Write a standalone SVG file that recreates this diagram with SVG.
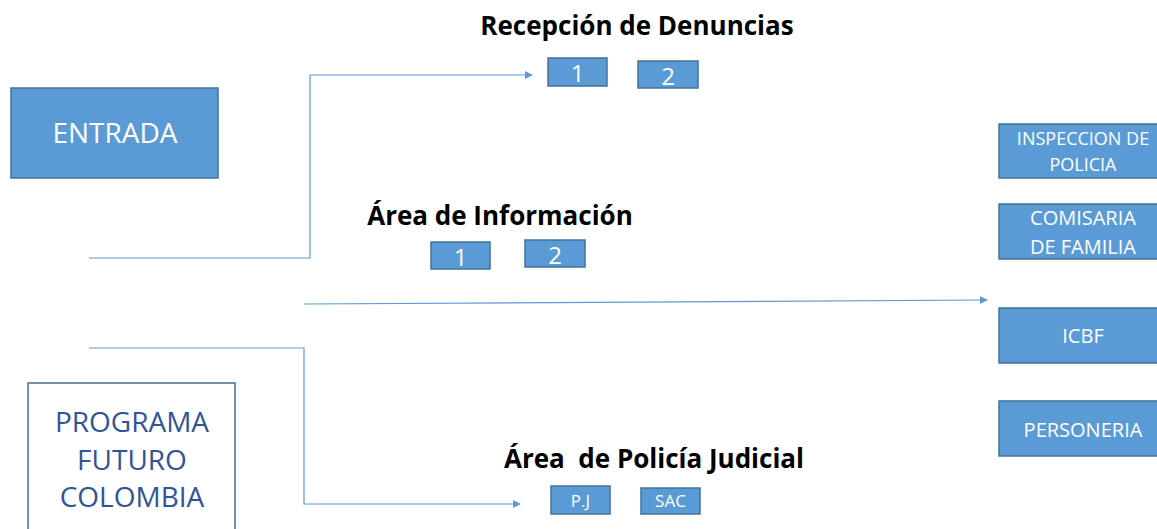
<svg xmlns="http://www.w3.org/2000/svg" width="1157" height="529" viewBox="0 0 1157 529">
<defs>
<style>
.box{fill:#5B9BD5;stroke:#41719C;stroke-width:1.5}
.wt{fill:#fff;font-family:"Open Sans","Liberation Sans",sans-serif;text-anchor:middle}
.title{fill:#000;font-family:"Open Sans","Liberation Sans",sans-serif;font-weight:bold;font-size:26px;text-anchor:middle}
.pg{fill:#2F5597;font-family:"Open Sans","Liberation Sans",sans-serif;font-size:28px;text-anchor:middle}
.con{fill:none;stroke:#5B9BD5;stroke-width:1.2}
</style>
<marker id="arr" viewBox="0 0 10 10" refX="9" refY="5" markerWidth="8" markerHeight="8" markerUnits="userSpaceOnUse" orient="auto">
<path d="M0,0 L10,5 L0,10 z" fill="#5B9BD5"/>
</marker>
</defs>
<rect width="1157" height="529" fill="#fff"/>
<g id="connectors">
<polyline class="con" points="89,258 310,258 310,75 532,75" marker-end="url(#arr)"/>
<line class="con" x1="304" y1="304" x2="987" y2="300" marker-end="url(#arr)"/>
<polyline class="con" points="89,348 304,348 304,504 520,504" marker-end="url(#arr)"/>
</g>
<g id="entrada">
<rect class="box" x="11" y="88" width="207" height="90"/>
<text class="wt" x="115" y="143" font-size="28">ENTRADA</text>
</g>
<g id="programa">
<rect x="28" y="383" width="207" height="160" fill="none" stroke="#41719C" stroke-width="1.5"/>
<text class="pg" x="132" y="432">PROGRAMA</text>
<text class="pg" x="132" y="470">FUTURO</text>
<text class="pg" x="132" y="507">COLOMBIA</text>
</g>
<g id="recepcion">
<text class="title" x="637" y="35">Recepción de Denuncias</text>
<rect class="box" x="548" y="58" width="59" height="28"/>
<text class="wt" x="577.5" y="82" font-size="24">1</text>
<rect class="box" x="638" y="61" width="60" height="27"/>
<text class="wt" x="668" y="85" font-size="24">2</text>
</g>
<g id="informacion">
<text class="title" x="500" y="225">Área de Información</text>
<rect class="box" x="431" y="242" width="59" height="27"/>
<text class="wt" x="460.5" y="266" font-size="24">1</text>
<rect class="box" x="525" y="240" width="60" height="27"/>
<text class="wt" x="555" y="264" font-size="24">2</text>
</g>
<g id="policia">
<text class="title" x="654" y="468" xml:space="preserve">Área  de Policía Judicial</text>
<rect class="box" x="551" y="486" width="59" height="28"/>
<text class="wt" x="580.5" y="507" font-size="17">P.J</text>
<rect class="box" x="641" y="488" width="59" height="26"/>
<text class="wt" x="670.5" y="507" font-size="17">SAC</text>
</g>
<g id="inspeccion">
<rect class="box" x="999" y="124" width="170" height="54"/>
<text class="wt" x="1083" y="145" font-size="18">INSPECCION DE</text>
<text class="wt" x="1083" y="171" font-size="18">POLICIA</text>
</g>
<g id="comisaria">
<rect class="box" x="999" y="204" width="170" height="55"/>
<text class="wt" x="1083" y="225" font-size="20">COMISARIA</text>
<text class="wt" x="1083" y="254" font-size="20">DE FAMILIA</text>
</g>
<g id="icbf">
<rect class="box" x="999" y="308" width="170" height="55"/>
<text class="wt" x="1083" y="343" font-size="20">ICBF</text>
</g>
<g id="personeria">
<rect class="box" x="999" y="401" width="170" height="55"/>
<text class="wt" x="1083" y="437" font-size="20">PERSONERIA</text>
</g>
</svg>
